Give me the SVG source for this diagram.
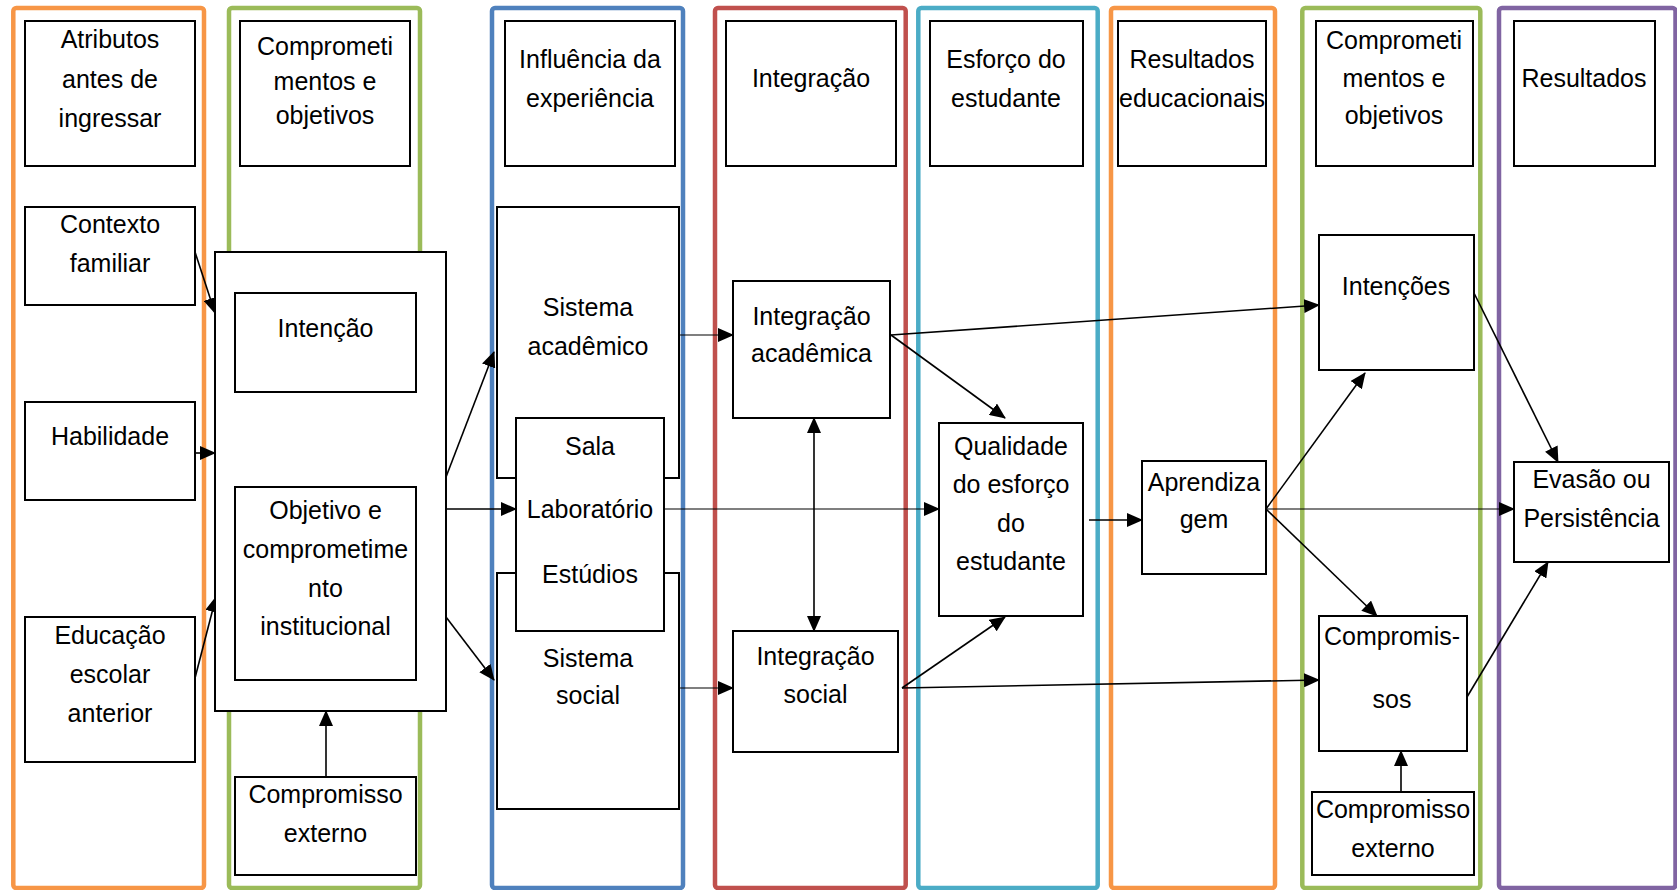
<svg xmlns="http://www.w3.org/2000/svg" width="1677" height="890" viewBox="0 0 1677 890">
<defs>
<style>
.col{fill:#fff;stroke-width:4.5}
.box{fill:#fff;stroke:#000;stroke-width:2}
.c{fill:none;stroke:#000;stroke-width:1.6}
.t{fill:none;stroke:#000;stroke-width:1.1}
text{font-family:"Liberation Sans",Arial,sans-serif;font-size:25px;fill:#000;text-anchor:middle}
</style>
<marker id="ah" markerUnits="userSpaceOnUse" markerWidth="16" markerHeight="14" viewBox="0 0 16 14" refX="15" refY="7" orient="auto-start-reverse">
<path d="M0,0 L16,7 L0,14 z" fill="#000"/>
</marker>
</defs>
<rect width="1677" height="890" fill="#fff"/>
<g id="columns">
<rect class="col" x="13.3" y="8" width="190.7" height="880" rx="3" stroke="#F79646"/>
<rect class="col" x="229" y="8" width="191" height="880" rx="3" stroke="#9BBB59"/>
<rect class="col" x="492" y="8" width="191" height="880" rx="3" stroke="#4F81BD"/>
<rect class="col" x="715" y="8" width="190.7" height="880" rx="3" stroke="#C0504D"/>
<rect class="col" x="918.3" y="8" width="179.4" height="880" rx="3" stroke="#4BACC6"/>
<rect class="col" x="1111" y="8" width="164" height="880" rx="3" stroke="#F79646"/>
<rect class="col" x="1302.3" y="8" width="178" height="880" rx="3" stroke="#9BBB59"/>
<rect class="col" x="1499" y="8" width="176.5" height="880" rx="3" stroke="#8064A2"/>
</g>
<g id="headers">
<g id="h1"><rect class="box" x="25" y="21" width="170" height="145"/><text x="110" y="48">Atributos</text><text x="110" y="87.5">antes de</text><text x="110" y="126.5">ingressar</text></g>
<g id="h2"><rect class="box" x="240" y="21" width="170" height="145"/><text x="325" y="55">Comprometi</text><text x="325" y="90">mentos e</text><text x="325" y="124">objetivos</text></g>
<g id="h3"><rect class="box" x="505" y="21" width="170" height="145"/><text x="590" y="68">Influência da</text><text x="590" y="107">experiência</text></g>
<g id="h4"><rect class="box" x="726" y="21" width="170" height="145"/><text x="811" y="87">Integração</text></g>
<g id="h5"><rect class="box" x="930" y="21" width="153" height="145"/><text x="1006" y="68">Esforço do</text><text x="1006" y="107">estudante</text></g>
<g id="h6"><rect class="box" x="1118" y="21" width="148" height="145"/><text x="1192" y="68">Resultados</text><text x="1192" y="107">educacionais</text></g>
<g id="h7"><rect class="box" x="1316" y="21" width="157" height="145"/><text x="1394" y="49">Comprometi</text><text x="1394" y="87">mentos e</text><text x="1394" y="124">objetivos</text></g>
<g id="h8"><rect class="box" x="1514" y="21" width="141" height="145"/><text x="1584" y="87">Resultados</text></g>
</g>
<g id="connectors">
<path class="c" d="M195,252 L215,313" marker-end="url(#ah)"/>
<path class="c" d="M195,453 L215,453" marker-end="url(#ah)"/>
<path class="c" d="M195,678 L216,597" marker-end="url(#ah)"/>
<path class="c" d="M326,777 L326,711" marker-end="url(#ah)"/>
<path class="c" d="M446,477 L494,352" marker-end="url(#ah)"/>
<path class="c" d="M446,509 L516,509" marker-end="url(#ah)"/>
<path class="c" d="M446,617 L494,680" marker-end="url(#ah)"/>
<path class="t" d="M679,335 L733,335" marker-end="url(#ah)"/>
<path class="t" d="M679,688 L733,688" marker-end="url(#ah)"/>
<path class="t" d="M664,509 L939,509" marker-end="url(#ah)"/>
<path class="c" d="M814,418 L814,631" marker-start="url(#ah)" marker-end="url(#ah)"/>
<path class="c" d="M891,335 L1319,305" marker-end="url(#ah)"/>
<path class="c" d="M891,335 L1005,418" marker-end="url(#ah)"/>
<path class="c" d="M902,688 L1005,617" marker-end="url(#ah)"/>
<path class="c" d="M902,688 L1319,680" marker-end="url(#ah)"/>
<path class="c" d="M1089,520 L1142,520" marker-end="url(#ah)"/>
<path class="c" d="M1266,509 L1365,373" marker-end="url(#ah)"/>
<path class="t" d="M1266,509 L1514,509" marker-end="url(#ah)"/>
<path class="c" d="M1266,509 L1377,616" marker-end="url(#ah)"/>
<path class="c" d="M1474,293 L1558,462" marker-end="url(#ah)"/>
<path class="c" d="M1467,697 L1548,562" marker-end="url(#ah)"/>
<path class="c" d="M1401,792 L1401,751" marker-end="url(#ah)"/>
</g>
<g id="n-contexto"><rect class="box" x="25" y="207" width="170" height="98"/><text x="110" y="233">Contexto</text><text x="110" y="272">familiar</text></g>
<g id="n-habilidade"><rect class="box" x="25" y="402" width="170" height="98"/><text x="110" y="445">Habilidade</text></g>
<g id="n-educacao"><rect class="box" x="25" y="617" width="170" height="145"/><text x="110" y="644">Educação</text><text x="110" y="683">escolar</text><text x="110" y="722">anterior</text></g>
<g id="n-comprometimentos"><rect class="box" x="215" y="252" width="231" height="459"/></g>
<g id="n-intencao"><rect class="box" x="235" y="293" width="181" height="99"/><text x="325.5" y="337">Intenção</text></g>
<g id="n-objetivo"><rect class="box" x="235" y="487" width="181" height="193"/><text x="325.5" y="519">Objetivo e</text><text x="325.5" y="558">comprometime</text><text x="325.5" y="596.5">nto</text><text x="325.5" y="635">institucional</text></g>
<g id="n-compext1"><rect class="box" x="235" y="777" width="181" height="98"/><text x="325.5" y="803">Compromisso</text><text x="325.5" y="842">externo</text></g>
<g id="n-sistacad"><rect class="box" x="497" y="207" width="182" height="271"/><text x="588" y="316">Sistema</text><text x="588" y="355">acadêmico</text></g>
<g id="n-sistsocial"><rect class="box" x="497" y="573" width="182" height="236"/><text x="588" y="667">Sistema</text><text x="588" y="704">social</text></g>
<g id="n-sala"><rect class="box" x="516" y="418" width="148" height="213"/><text x="590" y="455">Sala</text><text x="590" y="518">Laboratório</text><text x="590" y="583">Estúdios</text></g>
<g id="n-intacad"><rect class="box" x="733" y="281" width="157" height="137"/><text x="811.5" y="325">Integração</text><text x="811.5" y="362">acadêmica</text></g>
<g id="n-intsocial"><rect class="box" x="733" y="631" width="165" height="121"/><text x="815.5" y="665">Integração</text><text x="815.5" y="703">social</text></g>
<g id="n-qualidade"><rect class="box" x="939" y="423" width="144" height="193"/><text x="1011" y="455">Qualidade</text><text x="1011" y="493">do esforço</text><text x="1011" y="532">do</text><text x="1011" y="570">estudante</text></g>
<g id="n-aprendizagem"><rect class="box" x="1142" y="461" width="124" height="113"/><text x="1204" y="491">Aprendiza</text><text x="1204" y="528">gem</text></g>
<g id="n-intencoes"><rect class="box" x="1319" y="235" width="155" height="135"/><text x="1396" y="295">Intenções</text></g>
<g id="n-compromissos"><rect class="box" x="1319" y="616" width="148" height="135"/><text x="1392" y="645">Compromis-</text><text x="1392" y="708">sos</text></g>
<g id="n-compext2"><rect class="box" x="1312" y="792" width="162" height="83"/><text x="1393" y="818">Compromisso</text><text x="1393" y="857">externo</text></g>
<g id="n-evasao"><rect class="box" x="1514" y="462" width="155" height="100"/><text x="1591.5" y="488">Evasão ou</text><text x="1591.5" y="527">Persistência</text></g>
</svg>
